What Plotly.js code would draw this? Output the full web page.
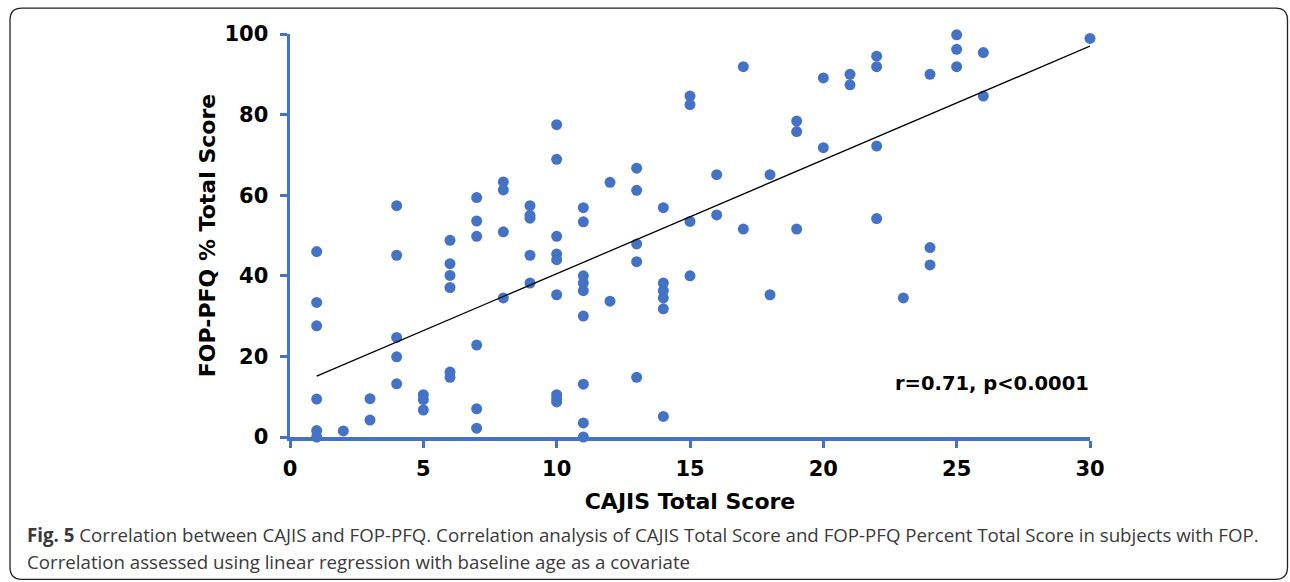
<!DOCTYPE html>
<html>
<head>
<meta charset="utf-8">
<script src="https://cdn.plot.ly/plotly-3.0.1.min.js"></script>
<style>
  html, body { margin: 0; padding: 0; background: #ffffff; }
  #chart { width: 1290px; height: 582px; }
</style>
</head>
<body>
<div id="chart"></div>
<script>
// CAJIS Total Score (x) and FOP-PFQ % Total Score (y)
const cajisScore = [
  1, 1, 1, 1, 1, 1,
  2,
  3, 3,
  4, 4, 4, 4, 4,
  5, 5, 5,
  6, 6, 6, 6, 6, 6,
  7, 7, 7, 7, 7, 7,
  8, 8, 8, 8,
  9, 9, 9, 9, 9,
  10, 10, 10, 10, 10, 10, 10, 10, 10,
  11, 11, 11, 11, 11, 11, 11, 11, 11,
  12, 12,
  13, 13, 13, 13, 13,
  14, 14, 14, 14, 14, 14,
  15, 15, 15, 15,
  16, 16,
  17, 17,
  18, 18,
  19, 19, 19,
  20, 20,
  21, 21,
  22, 22, 22, 22,
  23,
  24, 24, 24,
  25, 25, 25,
  26, 26,
  30
];
const fopPfqPercent = [
  46.0, 33.4, 27.6, 9.4, 1.6, 0.0,
  1.5,
  9.5, 4.2,
  57.4, 45.1, 24.7, 19.9, 13.2,
  10.5, 9.3, 6.7,
  48.8, 43.0, 40.1, 37.1, 16.1, 14.8,
  59.4, 53.6, 49.8, 22.8, 7.0, 2.2,
  63.3, 61.3, 50.9, 34.5,
  57.4, 55.0, 54.3, 45.1, 38.2,
  77.5, 68.9, 49.8, 45.4, 44.0, 35.3, 10.5, 9.5, 8.7,
  56.9, 53.4, 40.0, 38.2, 36.3, 30.0, 13.1, 3.5, 0.0,
  63.2, 33.7,
  66.7, 61.2, 47.9, 43.5, 14.8,
  56.9, 38.2, 36.3, 34.5, 31.8, 5.1,
  84.6, 82.5, 53.5, 40.0,
  65.1, 55.1,
  91.9, 51.6,
  65.1, 35.3,
  78.4, 75.8, 51.6,
  89.1, 71.8,
  90.0, 87.4,
  94.5, 91.9, 72.2, 54.2,
  34.5,
  90.0, 47.0, 42.7,
  99.8, 96.2, 91.9,
  95.4, 84.6,
  98.9
];
// Regression line end points
const trendX = [1, 30];
const trendY = [15.1, 97.0];

const xTickVals = [0, 5, 10, 15, 20, 25, 30];
const yTickVals = [0, 20, 40, 60, 80, 100];

const xTitle = 'CAJIS Total Score';
const yTitle = 'FOP-PFQ % Total Score';
const statText = 'r=0.71, p<0.0001';
const captionLine1 = '<b>Fig. 5</b> Correlation between CAJIS and FOP-PFQ. Correlation analysis of CAJIS Total Score and FOP-PFQ Percent Total Score in subjects with FOP.';
const captionLine2 = 'Correlation assessed using linear regression with baseline age as a covariate';

// ---- layout geometry (pixels) ----
const W = 1290, H = 582;
const L = 290, R = 1090, T = 34, B = 437.5;
const px2x = p => (p - L) / (R - L);
const py2y = p => (B - p) / (B - T);

const blue = '#4472C4';
const bold = 'DejaVu Sans, Verdana, sans-serif';

// rounded frame path in paper coordinates
function roundRectPath(x0, y0, x1, y1, r) {
  const X = px2x, Y = py2y;
  return 'M ' + X(x0 + r) + ',' + Y(y0) +
    ' L ' + X(x1 - r) + ',' + Y(y0) +
    ' Q ' + X(x1) + ',' + Y(y0) + ' ' + X(x1) + ',' + Y(y0 + r) +
    ' L ' + X(x1) + ',' + Y(y1 - r) +
    ' Q ' + X(x1) + ',' + Y(y1) + ' ' + X(x1 - r) + ',' + Y(y1) +
    ' L ' + X(x0 + r) + ',' + Y(y1) +
    ' Q ' + X(x0) + ',' + Y(y1) + ' ' + X(x0) + ',' + Y(y1 - r) +
    ' L ' + X(x0) + ',' + Y(y0 + r) +
    ' Q ' + X(x0) + ',' + Y(y0) + ' ' + X(x0 + r) + ',' + Y(y0) + ' Z';
}

const traces = [
  {
    type: 'scatter', mode: 'markers',
    x: cajisScore, y: fopPfqPercent,
    marker: { color: blue, size: 11, line: { width: 0 } },
    cliponaxis: false,
    hoverinfo: 'x+y'
  },
  {
    type: 'scatter', mode: 'lines',
    x: trendX, y: trendY,
    line: { color: '#000000', width: 1.3 },
    cliponaxis: false,
    hoverinfo: 'skip'
  }
];

const layout = {
  width: W, height: H,
  margin: { l: L, r: W - R, t: T, b: H - B, pad: 0 },
  paper_bgcolor: '#ffffff',
  plot_bgcolor: '#ffffff',
  showlegend: false,
  font: { family: bold, color: '#000000' },
  xaxis: {
    range: [0, 30], autorange: false,
    tickvals: xTickVals, ticktext: xTickVals.map(String),
    showgrid: false, zeroline: false,
    showline: true, linecolor: blue, linewidth: 3.5,
    ticks: 'outside', ticklen: 7, tickwidth: 3, tickcolor: blue,
    tickfont: { family: bold, size: 21, color: '#000000', weight: 'bold' },
    ticklabelstandoff: 3,
    title: { text: '<b>' + xTitle + '</b>', font: { family: bold, size: 22, color: '#000000' }, standoff: 15 },
    automargin: false
  },
  yaxis: {
    range: [0, 100], autorange: false,
    tickvals: yTickVals, ticktext: yTickVals.map(String),
    showgrid: false, zeroline: false,
    showline: true, linecolor: blue, linewidth: 3.5,
    ticks: 'outside', ticklen: 7, tickwidth: 3, tickcolor: blue,
    tickfont: { family: bold, size: 21, color: '#000000', weight: 'bold' },
    ticklabelstandoff: 7,
    title: { text: '<b>' + yTitle + '</b>', font: { family: bold, size: 22, color: '#000000' }, standoff: 4 },
    automargin: false
  },
  shapes: [
    {
      type: 'path', xref: 'paper', yref: 'paper',
      path: roundRectPath(10, 8, 1287.5, 580, 12),
      line: { color: '#222222', width: 1.3 },
      fillcolor: 'rgba(0,0,0,0)',
      layer: 'below'
    }
  ],
  annotations: [
    {
      xref: 'x', yref: 'y', x: 26.34, y: 13.3,
      text: '<b>' + statText + '</b>', showarrow: false,
      font: { family: bold, size: 19.5, color: '#000000' },
      xanchor: 'center', yanchor: 'middle'
    },
    {
      xref: 'paper', yref: 'paper', x: px2x(25), y: py2y(535),
      text: captionLine1, showarrow: false,
      font: { family: 'Open Sans, sans-serif', size: 18.7, color: '#3a3a3a' },
      xanchor: 'left', yanchor: 'middle', align: 'left'
    },
    {
      xref: 'paper', yref: 'paper', x: px2x(25), y: py2y(562),
      text: captionLine2, showarrow: false,
      font: { family: 'Open Sans, sans-serif', size: 18.7, color: '#3a3a3a' },
      xanchor: 'left', yanchor: 'middle', align: 'left'
    }
  ]
};

Plotly.newPlot('chart', traces, layout, { displayModeBar: false, staticPlot: true });
</script>
</body>
</html>
